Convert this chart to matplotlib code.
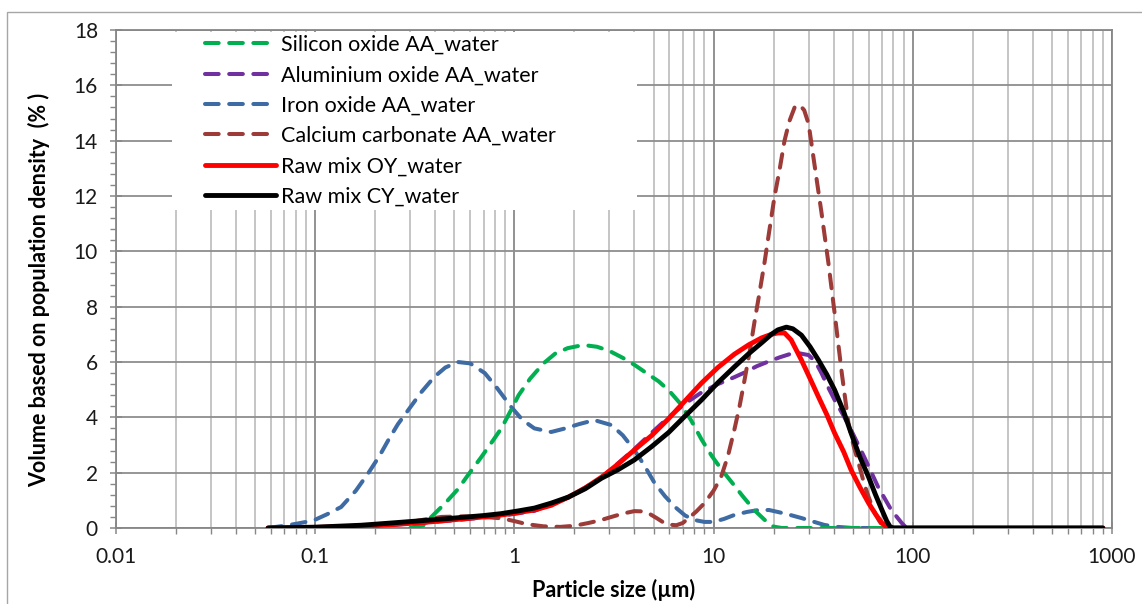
import matplotlib
matplotlib.use("Agg")
import matplotlib.pyplot as plt
from matplotlib.patches import Rectangle
from matplotlib.ticker import FixedLocator, NullFormatter, FixedFormatter

plt.rcParams['font.family'] = ['Lato', 'DejaVu Sans']

# ---------------- data ----------------
si_x = [0.30, 0.35, 0.383, 0.45, 0.52, 0.59, 0.68, 0.77, 0.86, 0.96, 1.05, 1.2, 1.4, 1.6, 1.85,
        2.1, 2.3, 2.6, 3.0, 3.5, 4.0, 4.6, 5.3, 6.0, 6.8, 7.7, 8.7, 9.8, 11, 12.5, 14, 16, 18, 20,
        22, 30, 50, 90]
si_y = [0, 0.1, 0.4, 0.9, 1.4, 1.95, 2.55, 3.1, 3.6, 4.25, 4.8, 5.4, 5.95, 6.3, 6.5,
        6.58, 6.6, 6.55, 6.4, 6.15, 5.9, 5.6, 5.3, 4.95, 4.5, 3.9, 3.2, 2.6, 2.1, 1.6, 1.15, 0.65, 0.3, 0.05,
        0, 0, 0, 0]

al_x = [0.058, 0.1, 0.17, 0.24, 0.35, 0.5, 0.7, 0.86, 1.26, 1.87, 2.74, 4.0, 4.9, 5.94, 7.2, 8.7,
        10.5, 12.7, 14.3, 16.5, 18.9, 21.5, 24, 26.7, 30, 32.5, 34.8, 37.5, 40.5, 45, 49, 57, 67, 78,
        88, 93, 100]
al_y = [0, 0.02, 0.06, 0.11, 0.19, 0.28, 0.38, 0.44, 0.62, 1.1, 1.82, 2.85, 3.45, 4.0, 4.5, 4.9,
        5.2, 5.45, 5.62, 5.85, 6.02, 6.17, 6.28, 6.32, 6.25, 6.0, 5.6, 5.1, 4.63, 4.05, 3.54, 2.57, 1.48, 0.65,
        0.18, 0, 0]

fe_x = [0.058, 0.062, 0.07, 0.08, 0.09, 0.1, 0.115, 0.135, 0.16, 0.185, 0.21, 0.233, 0.26, 0.293,
        0.34, 0.396, 0.45, 0.52, 0.6, 0.71, 0.82, 0.965, 1.1, 1.26, 1.53, 1.8, 2.1, 2.52, 3.07, 3.5,
        4.0, 4.5, 5.05, 5.7, 6.4, 7.2, 8.0, 9.0, 10, 11.3, 12.7, 14.7, 16.8, 19, 21, 24, 27.6, 31, 36,
        42, 50, 70, 90]
fe_y = [0, 0.03, 0.08, 0.15, 0.22, 0.3, 0.5, 0.76, 1.35, 1.99, 2.6, 3.18, 3.75, 4.26,
        4.9, 5.46, 5.8, 6.0, 5.95, 5.6, 5.05, 4.37, 3.9, 3.6, 3.47, 3.6, 3.75, 3.9, 3.72, 3.35,
        2.82, 2.25, 1.63, 1.15, 0.76, 0.45, 0.29, 0.22, 0.22, 0.33, 0.47, 0.58, 0.65, 0.65, 0.58, 0.48, 0.36, 0.25, 0.11,
        0.04, 0, 0, 0]

ca_x = [0.058, 0.15, 0.25, 0.35, 0.43, 0.55, 0.7, 0.86, 1.0, 1.15, 1.4, 1.7, 2.0, 2.35, 2.7, 3.07,
        3.5, 4.0, 4.4, 4.8, 5.2, 5.6, 6.0, 6.5, 7.0, 7.5, 8.2, 9.0, 10, 10.9, 11.8, 12.7, 13.5, 14.3,
        15.2, 16.1, 17, 18, 19, 20.2, 21.5, 22.7, 24, 25.5, 27, 28.5, 30, 32, 34.8, 37.7, 40.5, 44,
        47.5, 50.5, 53.4, 57, 60, 64, 67.4, 71, 75]
ca_y = [0, 0.02, 0.12, 0.3, 0.4, 0.42, 0.4, 0.35, 0.25, 0.14, 0.06, 0.04, 0.08, 0.18, 0.28, 0.4,
        0.52, 0.61, 0.6, 0.5, 0.35, 0.2, 0.12, 0.1, 0.18, 0.36, 0.6, 0.9, 1.35, 1.84, 2.6, 3.54, 4.4, 5.35,
        6.4, 7.52, 8.5, 9.58, 10.7, 11.96, 13.0, 14.0, 14.7, 15.2, 15.3, 15.1, 14.6, 13.2, 11.4, 9.58, 7.77, 5.6,
        3.8, 2.95, 2.35, 1.6, 1.12, 0.6, 0.29, 0.04, 0]

oy_x = [0.058, 0.1, 0.17, 0.24, 0.35, 0.5, 0.7, 0.86, 1.05, 1.26, 1.53, 1.87, 2.27, 2.74, 3.3, 4.0,
        4.9, 5.94, 7.2, 8.7, 10.5, 12.7, 15, 17.4, 19.5, 21, 22.7, 24.5, 27.6, 30.5, 33.6, 37, 40.5,
        45, 49, 54, 60, 65, 70, 75, 100, 200, 500, 900]
oy_y = [0, 0.02, 0.07, 0.12, 0.2, 0.3, 0.4, 0.47, 0.56, 0.65, 0.82, 1.12, 1.45, 1.84, 2.3, 2.82,
        3.35, 3.95, 4.6, 5.24, 5.8, 6.28, 6.62, 6.87, 7.0, 7.05, 7.05, 6.8, 6.07, 5.4, 4.74, 4.1, 3.43,
        2.75, 2.1, 1.5, 0.9, 0.5, 0.18, 0, 0, 0, 0, 0]

cy_x = [0.058, 0.1, 0.17, 0.24, 0.35, 0.5, 0.7, 0.86, 1.05, 1.26, 1.53, 1.87, 2.27, 2.74, 3.3, 4.0,
        4.9, 5.94, 7.2, 8.7, 10.5, 12.7, 15, 17.4, 19.5, 21, 23.2, 25, 27.6, 30.5, 33.6, 37, 40.5, 45,
        49, 54, 60, 65, 70, 74, 77, 80, 100, 200, 500, 900]
cy_y = [0, 0.03, 0.1, 0.18, 0.27, 0.36, 0.45, 0.52, 0.62, 0.72, 0.9, 1.12, 1.42, 1.8, 2.1, 2.46,
        2.95, 3.45, 4.05, 4.63, 5.25, 5.82, 6.3, 6.69, 7.0, 7.16, 7.26, 7.2, 6.97, 6.55, 6.07, 5.55, 4.99, 4.2,
        3.43, 2.6, 1.84, 1.2, 0.65, 0.25, 0.04, 0, 0, 0, 0, 0]

labels = ["Silicon oxide AA_water", "Aluminium oxide AA_water", "Iron oxide AA_water",
          "Calcium carbonate AA_water", "Raw mix OY_water", "Raw mix CY_water"]
colors = ["#00B050", "#7030A0", "#3E6BA3", "#9C3B38", "#FF0000", "#000000"]

x_ticks = [0.01, 0.1, 1, 10, 100, 1000]
x_tick_labels = ["0.01", "0.1", "1", "10", "100", "1000"]
y_ticks = [0, 2, 4, 6, 8, 10, 12, 14, 16, 18]

# ---------------- figure ----------------
fig = plt.figure(figsize=(11.42, 6.04), dpi=100)
ax = fig.add_axes([116 / 1142, 1 - 528 / 604, 996 / 1142, 498 / 604])

series = [(si_x, si_y), (al_x, al_y), (fe_x, fe_y), (ca_x, ca_y), (oy_x, oy_y), (cy_x, cy_y)]
zorders = [3.1, 3.2, 3.0, 3.3, 3.4, 3.5]
handles = []
for i, ((xs, ys), lab, col) in enumerate(zip(series, labels, colors)):
    if i < 4:
        ln, = ax.plot(xs, ys, color=col, lw=2.9, dashes=(3.4, 2.6), dash_capstyle='round',
                      solid_capstyle='round', label=lab, zorder=zorders[i])
    else:
        ln, = ax.plot(xs, ys, color=col, lw=3.5, solid_capstyle='round',
                      solid_joinstyle='round', label=lab, zorder=zorders[i])
    handles.append(ln)

ax.set_xscale('log')
ax.set_xlim(0.01, 1000)
ax.set_ylim(0, 18)

minor_x = [m * 10.0 ** e for e in range(-2, 3) for m in range(2, 10)]
ax.xaxis.set_major_locator(FixedLocator(x_ticks))
ax.xaxis.set_major_formatter(FixedFormatter(x_tick_labels))
ax.xaxis.set_minor_locator(FixedLocator(minor_x))
ax.xaxis.set_minor_formatter(NullFormatter())
ax.yaxis.set_major_locator(FixedLocator(y_ticks))
ax.yaxis.set_minor_locator(FixedLocator([v * 0.4 for v in range(0, 46)]))

ax.set_axisbelow(True)
ax.grid(which='major', axis='x', color='#898989', lw=1.3)
ax.grid(which='minor', axis='x', color='#c0c0c0', lw=1.3)
ax.grid(which='major', axis='y', color='#8e8e8e', lw=1.3)

for s in ax.spines.values():
    s.set_color('#878787')
    s.set_linewidth(1.3)

ax.tick_params(axis='both', which='major', direction='inout', length=8, width=1.1,
               color='#878787', labelsize=15, labelcolor='#1a1a1a')
ax.tick_params(axis='x', which='major', pad=10)
ax.tick_params(axis='y', which='major', pad=9)
ax.tick_params(axis='both', which='minor', direction='out', length=4, width=1.0, color='#878787')
ax.tick_params(axis='x', which='minor', top=False)

ax.set_xlabel("Particle size (µm)", fontsize=15.5, fontweight='bold', labelpad=8)
ax.set_ylabel("Volume based on population density  (% )", fontsize=15.5, fontweight='bold', labelpad=17)
ax.yaxis.label.set_y(0.478)

# legend background (covers gridlines)
ax.add_patch(Rectangle((0.0562, 0.6386), 0.4668, 0.3574, transform=ax.transAxes,
                       facecolor='white', edgecolor='none', zorder=1))
leg = ax.legend(handles=handles, loc='upper left', bbox_to_anchor=(0.0894, 0.99),
                frameon=False, fontsize=15.5, handlelength=3.3, handletextpad=0.25,
                labelspacing=0.48, borderaxespad=0, borderpad=0)
leg.set_zorder(5)

# chart area border
fig.patches.append(Rectangle((7 / 1142, -0.1), 1.2, 1 - 12 / 604 + 0.1, transform=fig.transFigure,
                             fill=False, edgecolor='#a6a6a6', lw=1.0))

fig.savefig("out.png", dpi=100)
